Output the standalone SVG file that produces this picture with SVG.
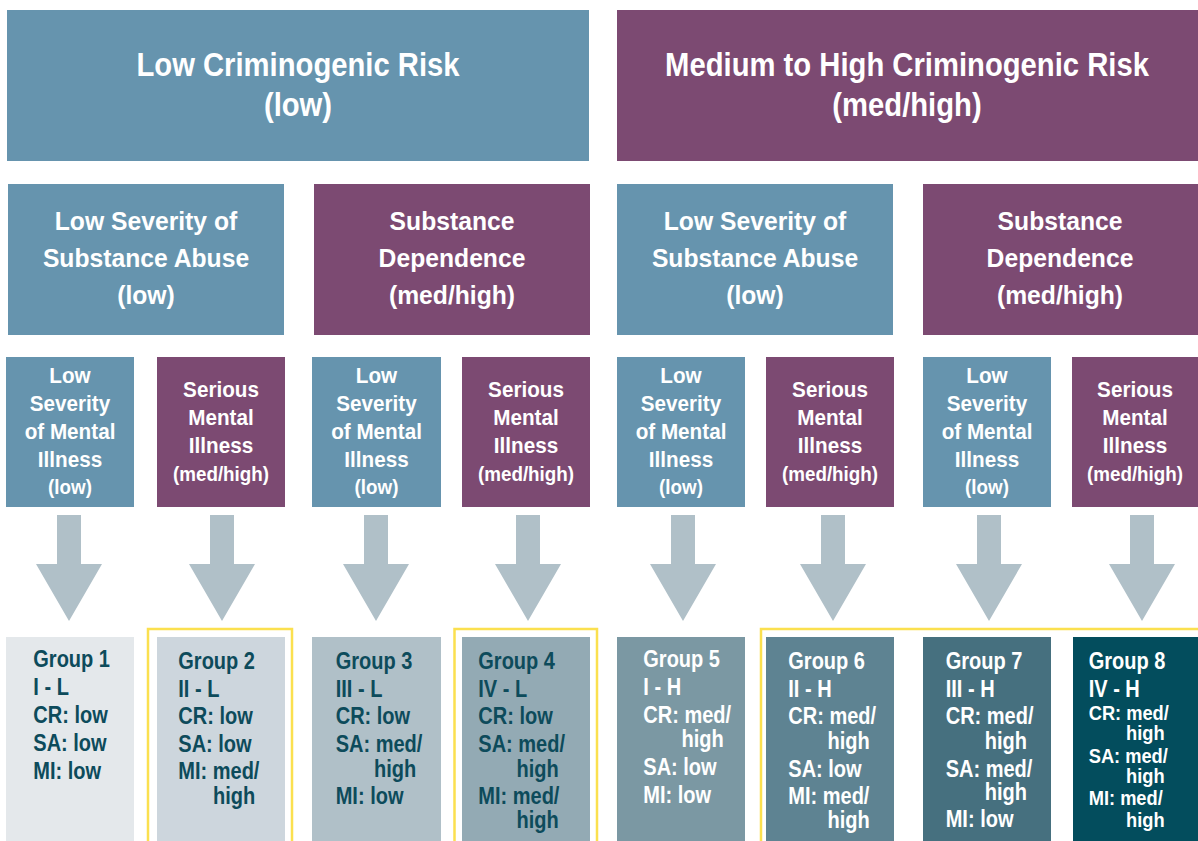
<svg xmlns="http://www.w3.org/2000/svg" xmlns:xlink="http://www.w3.org/1999/xlink" width="1198" height="841" viewBox="0 0 1198 841">
<style>
.t{font-family:"Liberation Sans",Arial,sans-serif;font-weight:bold;fill:#ffffff}
.c{text-anchor:middle}
.dk{fill:#0d4b5b}
.blue{fill:#6694ae}
.purple{fill:#7c4a72}
.arrow{fill:#b0c0c8}
.hl{fill:none;stroke:#fbe04f;stroke-width:2.5}
</style>
<defs>
<path id="arr" class="arrow" d="M-12,515 H12 V564 H33 L0,621 L-33,564 H-12 Z"/>
</defs>
<rect width="1198" height="841" fill="#ffffff"/>

<g id="top-low">
<rect class="blue" x="7" y="10" width="582" height="151"/>
<text class="t c" font-size="34" transform="translate(298,0) scale(0.86,1)"><tspan x="0" y="76">Low Criminogenic Risk</tspan><tspan x="0" y="116">(low)</tspan></text>
</g>
<g id="top-high">
<rect class="purple" x="617" y="10" width="581" height="151"/>
<text class="t c" font-size="34" transform="translate(907,0) scale(0.86,1)"><tspan x="0" y="76">Medium to High Criminogenic Risk</tspan><tspan x="0" y="116">(med/high)</tspan></text>
</g>

<g id="sa-low-1">
<rect class="blue" x="8" y="184" width="276" height="151"/>
<text class="t c" font-size="26" transform="translate(146,0) scale(0.95,1)"><tspan x="0" y="230">Low Severity of</tspan><tspan x="0" y="267">Substance Abuse</tspan><tspan x="0" y="304">(low)</tspan></text>
</g>
<g id="sa-high-1">
<rect class="purple" x="314" y="184" width="276" height="151"/>
<text class="t c" font-size="26" transform="translate(452,0) scale(0.95,1)"><tspan x="0" y="230">Substance</tspan><tspan x="0" y="267">Dependence</tspan><tspan x="0" y="304">(med/high)</tspan></text>
</g>
<g id="sa-low-2">
<rect class="blue" x="617" y="184" width="276" height="151"/>
<text class="t c" font-size="26" transform="translate(755,0) scale(0.95,1)"><tspan x="0" y="230">Low Severity of</tspan><tspan x="0" y="267">Substance Abuse</tspan><tspan x="0" y="304">(low)</tspan></text>
</g>
<g id="sa-high-2">
<rect class="purple" x="923" y="184" width="275" height="151"/>
<text class="t c" font-size="26" transform="translate(1060,0) scale(0.95,1)"><tspan x="0" y="230">Substance</tspan><tspan x="0" y="267">Dependence</tspan><tspan x="0" y="304">(med/high)</tspan></text>
</g>

<g id="mi-low-1">
<rect class="blue" x="6" y="357" width="128" height="150"/>
<text class="t c" font-size="22" transform="translate(70,0) scale(0.94,1)"><tspan x="0" y="383">Low</tspan><tspan x="0" y="411.5">Severity</tspan><tspan x="0" y="439">of Mental</tspan><tspan x="0" y="467">Illness</tspan><tspan x="0" y="494" font-size="20">(low)</tspan></text>
</g>
<g id="mi-high-1">
<rect class="purple" x="157" y="357" width="128" height="150"/>
<text class="t c" font-size="22" transform="translate(221,0) scale(0.94,1)"><tspan x="0" y="397.5">Serious</tspan><tspan x="0" y="425.5">Mental</tspan><tspan x="0" y="453.5">Illness</tspan><tspan x="0" y="481" font-size="20">(med/high)</tspan></text>
</g>
<g id="mi-low-2">
<rect class="blue" x="312" y="357" width="129" height="150"/>
<text class="t c" font-size="22" transform="translate(376.5,0) scale(0.94,1)"><tspan x="0" y="383">Low</tspan><tspan x="0" y="411.5">Severity</tspan><tspan x="0" y="439">of Mental</tspan><tspan x="0" y="467">Illness</tspan><tspan x="0" y="494" font-size="20">(low)</tspan></text>
</g>
<g id="mi-high-2">
<rect class="purple" x="462" y="357" width="128" height="150"/>
<text class="t c" font-size="22" transform="translate(526,0) scale(0.94,1)"><tspan x="0" y="397.5">Serious</tspan><tspan x="0" y="425.5">Mental</tspan><tspan x="0" y="453.5">Illness</tspan><tspan x="0" y="481" font-size="20">(med/high)</tspan></text>
</g>
<g id="mi-low-3">
<rect class="blue" x="617" y="357" width="128" height="150"/>
<text class="t c" font-size="22" transform="translate(681,0) scale(0.94,1)"><tspan x="0" y="383">Low</tspan><tspan x="0" y="411.5">Severity</tspan><tspan x="0" y="439">of Mental</tspan><tspan x="0" y="467">Illness</tspan><tspan x="0" y="494" font-size="20">(low)</tspan></text>
</g>
<g id="mi-high-3">
<rect class="purple" x="766" y="357" width="128" height="150"/>
<text class="t c" font-size="22" transform="translate(830,0) scale(0.94,1)"><tspan x="0" y="397.5">Serious</tspan><tspan x="0" y="425.5">Mental</tspan><tspan x="0" y="453.5">Illness</tspan><tspan x="0" y="481" font-size="20">(med/high)</tspan></text>
</g>
<g id="mi-low-4">
<rect class="blue" x="923" y="357" width="128" height="150"/>
<text class="t c" font-size="22" transform="translate(987,0) scale(0.94,1)"><tspan x="0" y="383">Low</tspan><tspan x="0" y="411.5">Severity</tspan><tspan x="0" y="439">of Mental</tspan><tspan x="0" y="467">Illness</tspan><tspan x="0" y="494" font-size="20">(low)</tspan></text>
</g>
<g id="mi-high-4">
<rect class="purple" x="1072" y="357" width="128" height="150"/>
<text class="t c" font-size="22" transform="translate(1135,0) scale(0.94,1)"><tspan x="0" y="397.5">Serious</tspan><tspan x="0" y="425.5">Mental</tspan><tspan x="0" y="453.5">Illness</tspan><tspan x="0" y="481" font-size="20">(med/high)</tspan></text>
</g>

<g id="connectors">
<use xlink:href="#arr" href="#arr" x="69"/>
<use xlink:href="#arr" href="#arr" x="222"/>
<use xlink:href="#arr" href="#arr" x="376"/>
<use xlink:href="#arr" href="#arr" x="528"/>
<use xlink:href="#arr" href="#arr" x="683"/>
<use xlink:href="#arr" href="#arr" x="833"/>
<use xlink:href="#arr" href="#arr" x="989"/>
<use xlink:href="#arr" href="#arr" x="1142"/>
</g>

<g id="highlights">
<rect class="hl" x="148" y="629" width="144" height="230"/>
<rect class="hl" x="454.5" y="629" width="142.5" height="230"/>
<rect class="hl" x="761" y="629" width="460" height="230"/>
</g>

<g id="group1">
<rect x="6" y="637" width="128" height="210" fill="#e4e8eb"/>
<text class="t dk" font-size="23" transform="translate(33.3,0) scale(0.87,1)"><tspan x="0" y="667">Group 1</tspan><tspan x="0" y="695">I - L</tspan><tspan x="0" y="723">CR: low</tspan><tspan x="0" y="751">SA: low</tspan><tspan x="0" y="779">MI: low</tspan></text>
</g>
<g id="group2">
<rect x="157" y="637" width="128" height="210" fill="#cdd6dd"/>
<text class="t dk" font-size="23" transform="translate(178.3,0) scale(0.87,1)"><tspan x="0" y="669">Group 2</tspan><tspan x="0" y="697">II - L</tspan><tspan x="0" y="724.5">CR: low</tspan><tspan x="0" y="752">SA: low</tspan><tspan x="0" y="779.5">MI: med/</tspan><tspan x="40" y="804">high</tspan></text>
</g>
<g id="group3">
<rect x="312" y="637" width="129" height="210" fill="#b0c0c8"/>
<text class="t dk" font-size="23" transform="translate(335.7,0) scale(0.87,1)"><tspan x="0" y="669">Group 3</tspan><tspan x="0" y="697">III - L</tspan><tspan x="0" y="724.5">CR: low</tspan><tspan x="0" y="752">SA: med/</tspan><tspan x="44" y="777">high</tspan><tspan x="0" y="804">MI: low</tspan></text>
</g>
<g id="group4">
<rect x="462" y="637" width="128" height="210" fill="#93aab4"/>
<text class="t dk" font-size="23" transform="translate(478.3,0) scale(0.87,1)"><tspan x="0" y="669">Group 4</tspan><tspan x="0" y="697">IV - L</tspan><tspan x="0" y="724.5">CR: low</tspan><tspan x="0" y="752">SA: med/</tspan><tspan x="44" y="777">high</tspan><tspan x="0" y="804">MI: med/</tspan><tspan x="44" y="828">high</tspan></text>
</g>
<g id="group5">
<rect x="617" y="637" width="128" height="210" fill="#7b98a3"/>
<text class="t" font-size="23" transform="translate(643.3,0) scale(0.87,1)"><tspan x="0" y="667">Group 5</tspan><tspan x="0" y="695.5">I - H</tspan><tspan x="0" y="723.3">CR: med/</tspan><tspan x="44" y="747.5">high</tspan><tspan x="0" y="775">SA: low</tspan><tspan x="0" y="802.7">MI: low</tspan></text>
</g>
<g id="group6">
<rect x="766" y="637" width="128" height="210" fill="#5e8392"/>
<text class="t" font-size="23" transform="translate(788.3,0) scale(0.87,1)"><tspan x="0" y="669">Group 6</tspan><tspan x="0" y="697">II - H</tspan><tspan x="0" y="724.3">CR: med/</tspan><tspan x="45" y="749">high</tspan><tspan x="0" y="776.7">SA: low</tspan><tspan x="0" y="804">MI: med/</tspan><tspan x="45" y="828.3">high</tspan></text>
</g>
<g id="group7">
<rect x="923" y="637" width="128" height="210" fill="#46707f"/>
<text class="t" font-size="23" transform="translate(945.7,0) scale(0.87,1)"><tspan x="0" y="669">Group 7</tspan><tspan x="0" y="697">III - H</tspan><tspan x="0" y="724.3">CR: med/</tspan><tspan x="45" y="749">high</tspan><tspan x="0" y="776.7">SA: med/</tspan><tspan x="45" y="800">high</tspan><tspan x="0" y="826.7">MI: low</tspan></text>
</g>
<g id="group8">
<rect x="1073" y="637" width="128" height="210" fill="#034d5d"/>
<text class="t" font-size="23" transform="translate(1088.7,0) scale(0.87,1)"><tspan x="0" y="669">Group 8</tspan><tspan x="0" y="697">IV - H</tspan><tspan x="0" y="720" font-size="21">CR: med/</tspan><tspan x="43" y="740" font-size="21">high</tspan><tspan x="0" y="763.3" font-size="21">SA: med/</tspan><tspan x="43" y="783.3" font-size="21">high</tspan><tspan x="0" y="805" font-size="21">MI: med/</tspan><tspan x="43" y="826.7" font-size="21">high</tspan></text>
</g>
</svg>
